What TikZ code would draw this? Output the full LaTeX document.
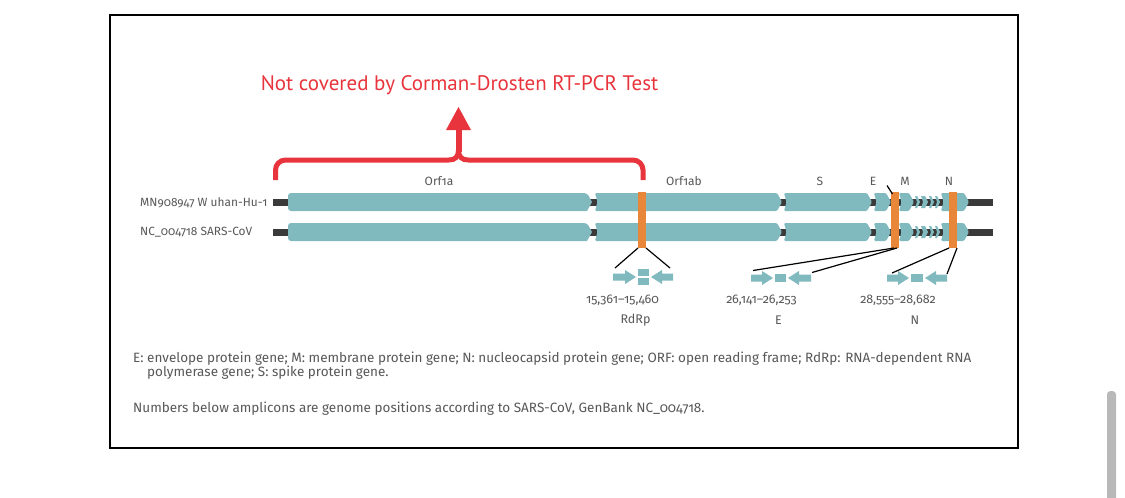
\documentclass[tikz,border=0pt]{standalone}
\usepackage{fontspec}
\setmainfont{Fira Sans}[Numbers=OldStyle]
\newfontfamily\titlefont{PT Sans}
\definecolor{genecol}{HTML}{80B9BE}
\definecolor{orcol}{HTML}{E8873A}
\definecolor{darkcol}{HTML}{3A3A3A}
\definecolor{txtcol}{HTML}{585858}
\definecolor{redcol}{HTML}{E8343C}
\definecolor{scrollcol}{HTML}{B8B8B8}
\newcommand\genebox[4]{\fill[genecol, rounded corners=1.2pt] (#1,#3-#4/2) -- (#2-5,#3-#4/2) -- (#2,#3) -- (#2-5,#3+#4/2) -- (#1,#3+#4/2) -- (#1+2.5,#3) -- cycle;}
\newcommand\smallgene[3]{\fill[genecol] (#1,#3-6) -- (#2-3,#3-6) -- (#2,#3) -- (#2-3,#3+6) -- (#1,#3+6) -- (#1+2,#3) -- cycle;}
\newcommand\amprightarrow[3]{\fill[genecol] (#1,#3-3.5) -- (#2-11,#3-3.5) -- (#2-11,#3-7) -- (#2,#3) -- (#2-11,#3+7) -- (#2-11,#3+3.5) -- (#1,#3+3.5) -- cycle;}
\newcommand\ampleftarrow[3]{\fill[genecol] (#2,#3-3.5) -- (#1+11,#3-3.5) -- (#1+11,#3-7) -- (#1,#3) -- (#1+11,#3+7) -- (#1+11,#3+3.5) -- (#2,#3+3.5) -- cycle;}
\newcommand\genomerow[1]{%
  \fill[darkcol] (273,#1-3.5) rectangle (993,#1+3.5);
  \fill[genecol, rounded corners=3pt] (288,#1-9) -- (587,#1-9) [sharp corners] -- (592,#1) -- (587,#1+9) [rounded corners=3pt] -- (288,#1+9) -- cycle;
  \genebox{595}{782}{#1}{18}
  \genebox{784}{872}{#1}{18}
  \genebox{874}{891}{#1}{18}
  \genebox{899}{914}{#1}{18}
  \smallgene{915}{920}{#1}
  \smallgene{921}{928}{#1}
  \smallgene{929}{934}{#1}
  \smallgene{935}{940}{#1}
  \genebox{941}{969}{#1}{18}
}
\tikzset{
  lbl/.style={text=txtcol, font=\fontsize{12}{14}\selectfont, inner sep=0},
  rowlbl/.style={text=txtcol, font=\fontsize{11.9}{14}\selectfont, inner sep=0, anchor=west},
  numlbl/.style={text=txtcol, font=\fontsize{12.5}{14}\selectfont, inner sep=0},
  caplbl/.style={text=txtcol, font=\fontsize{13.5}{16}\selectfont, inner sep=0, anchor=base west},
  orbar/.style={fill=orcol, draw=none, minimum width=8pt, minimum height=56pt, inner sep=0, outer sep=0},
  conn/.style={draw=black, line width=1.2pt},
  bracket/.style={draw=redcol, line width=5pt},
}
\begin{document}
\begin{tikzpicture}[x=1pt, y=-1pt]
\useasboundingbox (0,0) rectangle (1125,498);
\fill[white] (0,0) rectangle (1125,498);
% frame
\draw[black, line width=2pt] (109.5,14.5) rectangle (1017.5,448);
% scrollbar
\fill[scrollcol, rounded corners=3.5pt] (1107,391) rectangle (1116,505);

% title and bracket
\node[text=redcol, font=\titlefont\fontsize{21}{25}\selectfont, inner sep=0] (title) at (459.5,85) {Not covered by Corman-Drosten RT-PCR Test};
\draw[bracket, rounded corners=10pt] (275.5,180) -- (275.5,160) -- (449,160);
\draw[bracket] (449,160) .. controls (455,160) and (458.5,157) .. (458.5,150);
\draw[bracket, rounded corners=10pt] (643,180) -- (643,160) -- (468,160);
\draw[bracket] (468,160) .. controls (462,160) and (458.5,157) .. (458.5,150);
\draw[draw=redcol, line width=6pt] (458.5,152) -- (458.5,128);
\fill[redcol] (446,130) -- (458.5,107) coordinate (tip) -- (471,130) -- cycle;

% genome rows
\genomerow{202}
\genomerow{232}
\node[rowlbl] (wuhan) at (140,203) {MN908947 W uhan-Hu-1};
\node[rowlbl] (sars) at (140,232.5) {NC\_004718 SARS-CoV};

% gene labels
\node[lbl] (orf1a) at (439,181.5) {Orf1a};
\node[lbl] (orf1ab) at (684,181.5) {Orf1ab};
\node[lbl] (sgene) at (820,181.5) {S};
\node[lbl] (egene) at (873,181.5) {E};
\node[lbl] (mgene) at (905,181.5) {M};
\node[lbl] (ngene) at (949,181.5) {N};

% orange probe bars
\node[orbar] (rdrpbar) at (642,220) {};
\node[orbar] (ebar) at (895,220) {};
\node[orbar] (nbar) at (953,220) {};
\coordinate (etick) at (887,185.5);
\draw[conn] (etick) -- (892.5,194);

% connectors
\coordinate (rdrpL) at (615,268);
\coordinate (rdrpR) at (670,268);
\coordinate (eL) at (753,270.5);
\coordinate (eR) at (812,272.5);
\coordinate (nL) at (892,273);
\coordinate (nR) at (947,274);
\draw[conn] (rdrpbar.south west) -- (rdrpL);
\draw[conn] (rdrpbar.south east) -- (rdrpR);
\draw[conn] ([xshift=-1pt]ebar.south) -- (eL);
\draw[conn] ([xshift=2pt]ebar.south) -- (eR);
\draw[conn] (nbar.south west) -- (nL);
\draw[conn] (nbar.south east) -- (nR);

% amplicons
\amprightarrow{613}{636}{277}
\fill[genecol] (638,269) rectangle (649,276.3);
\fill[genecol] (638,277.7) rectangle (649,285);
\ampleftarrow{651}{673}{277}
\amprightarrow{751}{773}{278}
\fill[genecol] (775,274) rectangle (786,282);
\ampleftarrow{788}{811}{278}
\amprightarrow{887}{909}{278}
\fill[genecol] (911,274) rectangle (923,282);
\ampleftarrow{925}{947}{278}

% amplicon labels
\node[numlbl] (rdrppos) at (622.5,300) {15,361–15,460};
\node[numlbl] (rdrpname) at (635.5,320) {RdRp};
\node[numlbl] (epos) at (761.5,300) {26,141–26,253};
\node[numlbl] (ename) at (778.5,320) {E};
\node[numlbl] (npos) at (898,300) {28,555–28,682};
\node[numlbl] (nname) at (915,320) {N};

% caption
\node[caplbl] (cap1) at (133,362) {E: envelope protein gene; M: membrane protein gene; N: nucleocapsid protein gene; ORF: open reading frame; RdRp: RNA-dependent RNA};
\node[caplbl] (cap2) at (147,376) {polymerase gene; S: spike protein gene.};
\node[caplbl] (cap3) at (133,412) {Numbers below amplicons are genome positions according to SARS-CoV, GenBank NC\_004718.};
\end{tikzpicture}
\end{document}
